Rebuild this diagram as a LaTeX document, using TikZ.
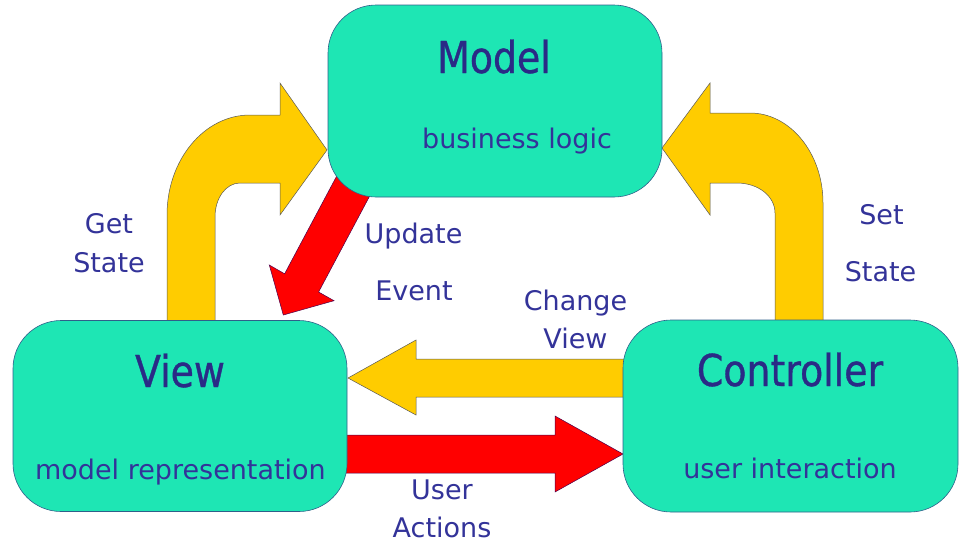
\documentclass[tikz,border=0pt]{standalone}
\usepackage{fontspec}
\setmainfont{DejaVu Sans}
\newfontfamily\titlefont{DejaVu Sans}[FakeStretch=0.86,FakeBold=0.8]
\definecolor{mvcgreen}{HTML}{1EE6B4}
\definecolor{mvcyellow}{HTML}{FFCC00}
\definecolor{mvcred}{HTML}{FF0000}
\definecolor{mvctext}{HTML}{333399}
\definecolor{mvctitle}{HTML}{2A2A86}
\definecolor{mvcedge}{HTML}{2F5F8A}
\begin{document}
\begin{tikzpicture}[x=1pt,y=-1pt,
    box/.style={draw=mvcedge, fill=mvcgreen, rounded corners=48pt, line width=0.6pt, inner sep=0pt},
    title/.style={text=mvctitle, font=\titlefont\fontsize{44}{44}\selectfont, anchor=base, inner sep=0pt},
    sub/.style={text=mvctext, font=\fontsize{27}{27}\selectfont, anchor=base, inner sep=0pt},
    yarrow/.style={fill=mvcyellow, draw=black!65, line width=0.5pt},
    rarrow/.style={fill=mvcred, draw=violet!60!black, line width=0.5pt}]
    \useasboundingbox (0,0) rectangle (966,550);
    % block arrows, drawn first so the boxes cover their ends
    \filldraw[yarrow] (167,330) -- (167,215) .. controls (167,160) and (204,115) .. (250,115)
        -- (280,115) -- (280,83) -- (327,150) -- (280,215) -- (280,183) -- (240,183)
        .. controls (226,183) and (215,198) .. (215,217) -- (215,330) -- cycle;
    \filldraw[yarrow] (823,330) -- (823,203) .. controls (823,153) and (790,113) .. (750,113)
        -- (710,113) -- (710,83) -- (662,148) -- (710,215) -- (710,183) -- (737,183)
        .. controls (758,183) and (775,196) .. (775,213) -- (775,330) -- cycle;
    \filldraw[rarrow] (341,168) -- (284.6,273.8) -- (269.3,265) -- (283.3,315)
        -- (334,300.7) -- (318.6,292) -- (375,186) -- cycle;
    \filldraw[yarrow] (640,359) -- (416,359) -- (416,340) -- (348,378) -- (416,415)
        -- (416,397) -- (640,397) -- cycle;
    \filldraw[rarrow] (330,435) -- (555,435) -- (555,416) -- (623,454) -- (555,492)
        -- (555,473) -- (330,473) -- cycle;

    \node[box, minimum width=334pt, minimum height=192pt] (model) at (495,101) {};
    \node[box, minimum width=334pt, minimum height=191pt] (view) at (180,416) {};
    \node[box, minimum width=335pt, minimum height=192pt] (ctrl) at (790.5,416) {};

    \node[title] (modeltitle) at (494,73) {Model};
    \node[sub] (modelsub) at (517,148) {business logic};
    \node[title] (viewtitle) at (180,387) {View};
    \node[sub] (viewsub) at (180.5,479) {model representation};
    \node[title] (ctrltitle) at (790,386) {Controller};
    \node[sub] (ctrlsub) at (790,478) {user interaction};

%    labels beside the arrows
    \node[sub] (get) at (109,233) {Get};
    \node[sub] (getstate) at (109,272) {State};
    \node[sub] (update) at (413.5,243) {Update};
    \node[sub] (event) at (414,300) {Event};
    \node[sub] (change) at (575.5,310) {Change};
    \node[sub] (changeview) at (575.5,348) {View};
    \node[sub] (set) at (881.5,224) {Set};
    \node[sub] (setstate) at (880.5,281) {State};
    \node[sub] (user) at (442,499) {User};
    \node[sub] (actions) at (442,537) {Actions};
\end{tikzpicture}
\end{document}
